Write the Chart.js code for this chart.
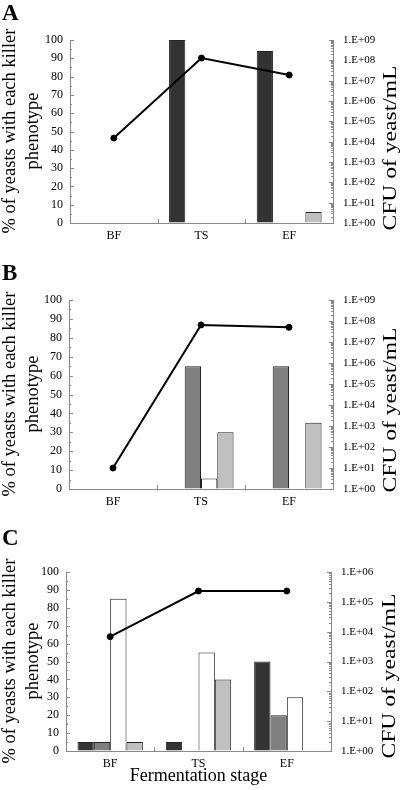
<!DOCTYPE html>
<html>
<head>
<meta charset="utf-8">
<script src="https://cdn.jsdelivr.net/npm/chart.js@4.4.0/dist/chart.umd.min.js"></script>
<style>
  body { margin: 0; background: #fff; width: 400px; height: 790px; position: relative; overflow: hidden; font-family: "Liberation Serif", serif; color: #000; }
  .panel { position: absolute; left: 0; width: 400px; }
  .letter { position: absolute; left: 2px; font-weight: bold; font-size: 23px; line-height: 23px; }
  canvas { display: block; }
  /* rotated axis titles: zero-size anchor at the text centre */
  .vtitle { position: absolute; width: 0; height: 0; transform-origin: 0 0; }
  .vtitle span { position: absolute; left: 0; top: 0; transform: translate(-50%, -50%); white-space: nowrap; text-align: center; }
  .ltitle { transform: rotate(-90deg); }
  .ltitle span { font-size: 18.5px; line-height: 23px; }
  .rtitle { transform: rotate(-90deg) scaleX(1.24); }
  .rtitle span { font-size: 19px; line-height: 19px; }
</style>
</head>
<body>
<div class="panel" style="top:0px;height:255px"><canvas id="chartA" width="400" height="255"></canvas></div>
<div class="panel" style="top:255px;height:265px"><canvas id="chartB" width="400" height="265"></canvas></div>
<div class="panel" style="top:520px;height:270px"><canvas id="chartC" width="400" height="270"></canvas></div>

<div class="letter" style="top:1px">A</div>
<div class="letter" style="top:261px">B</div>
<div class="letter" style="top:526px">C</div>

<div class="vtitle ltitle" style="left:21px;top:131px"><span>% of yeasts with each killer<br>phenotype</span></div>
<div class="vtitle ltitle" style="left:21px;top:394px"><span>% of yeasts with each killer<br>phenotype</span></div>
<div class="vtitle ltitle" style="left:21px;top:661px"><span>% of yeasts with each killer<br>phenotype</span></div>
<div class="vtitle rtitle" style="left:389px;top:148px"><span>CFU of yeast/mL</span></div>
<div class="vtitle rtitle" style="left:389px;top:410px"><span>CFU of yeast/mL</span></div>
<div class="vtitle rtitle" style="left:388px;top:676px"><span>CFU of yeast/mL</span></div>

<script>
// fermentation stages
const stages = ['BF', 'TS', 'EF'];

// % of yeasts per killer phenotype (4 bar series, by fill shade), null = no bar
const darkA   = [null, 100, 94];
const mediumA = [null, null, null];
const whiteA  = [null, null, null];
const lightA  = [null, null, 6];
const cfuA    = [1.5e4, 1.3e8, 1.9e7];

const darkB   = [null, null, null];
const mediumB = [null, 65, 65];
const whiteB  = [null, 5.5, null];
const lightB  = [null, 30, 35];
const cfuB    = [1.0e1, 6.5e7, 5.0e7];

const darkC   = [5, 5, 50];
const mediumC = [5, null, 20];
const whiteC  = [85, 55, 30];
const lightC  = [5, 40, null];
const cfuC    = [6.8e3, 2.3e5, 2.3e5];

const fillColors = ['#333333', '#808080', '#ffffff', '#c0c0c0'];
const axisGray = '#888888';
const serif = '"Liberation Serif", "Times New Roman", serif';

// ticks point into the plot, like the original figure
const inwardTicks = {
  id: 'inwardTicks',
  afterDraw(chart) {
    const ctx = chart.ctx;
    const xs = chart.scales.x, yl = chart.scales.y, yr = chart.scales.y1;
    ctx.save();
    ctx.strokeStyle = axisGray;
    ctx.lineWidth = 1;
    ctx.beginPath();
    for (let v = 0; v <= 100; v += 5) {
      const py = Math.round(yl.getPixelForValue(v)) + 0.5;
      const len = v % 10 === 0 ? 4 : 2;
      ctx.moveTo(yl.right, py); ctx.lineTo(yl.right + len, py);
    }
    const maxExp = Math.round(Math.log10(yr.max));
    for (let e = 0; e <= maxExp; e++) {
      for (let m = 1; m <= 9; m++) {
        if (e === maxExp && m > 1) break;
        const py = Math.round(yr.getPixelForValue(m * Math.pow(10, e))) + 0.5;
        const len = m === 1 ? 4 : 2;
        ctx.moveTo(yr.left, py); ctx.lineTo(yr.left - len, py);
      }
    }
    for (let i = 0; i < stages.length - 1; i++) {
      const px = Math.round((xs.getPixelForTick(i) + xs.getPixelForTick(i + 1)) / 2) + 0.5;
      ctx.moveTo(px, xs.top); ctx.lineTo(px, xs.top - 4);
    }
    ctx.stroke();
    ctx.restore();
  }
};

function makePanel(id, series, cfu, opts) {
  const datasets = [{
    type: 'line',
    data: cfu,
    yAxisID: 'y1',
    borderColor: '#000',
    borderWidth: 2,
    pointRadius: 3,
    pointBorderWidth: 1,
    pointBackgroundColor: '#000',
    pointBorderColor: '#000',
    order: 0
  }];
  series.forEach((vals, i) => {
    datasets.push({
      type: 'bar',
      data: vals,
      yAxisID: 'y',
      backgroundColor: fillColors[i],
      borderColor: '#222',
      borderWidth: 1,
      categoryPercentage: 0.74,
      barPercentage: 1.0,
      order: 1
    });
  });

  new Chart(document.getElementById(id), {
    data: { labels: stages, datasets: datasets },
    options: {
      responsive: false,
      animation: false,
      events: [],
      layout: { padding: { top: opts.padTop, left: 0, right: 0, bottom: 0 } },
      plugins: { legend: { display: false }, tooltip: { enabled: false } },
      scales: {
        x: {
          afterFit: s => { s.height = opts.xH; },
          grid: { display: true, drawOnChartArea: false, drawTicks: false },
          border: { color: axisGray, width: 1 },
          ticks: { color: '#000', padding: 6, font: { family: serif, size: 12 } },
          title: {
            display: !!opts.xTitle,
            text: opts.xTitle || '',
            color: '#000',
            font: { family: serif, size: 18, lineHeight: 1.2 },
            padding: { top: 0, bottom: 3 }
          }
        },
        y: {
          position: 'left',
          min: 0, max: 100,
          afterFit: s => { s.width = opts.leftW; },
          grid: { display: true, drawOnChartArea: false, drawTicks: false },
          border: { color: axisGray, width: 1 },
          ticks: { stepSize: 10, autoSkip: false, color: '#000', padding: 7, font: { family: serif, size: 12 } }
        },
        y1: {
          type: 'logarithmic',
          position: 'right',
          min: 1, max: opts.logMax,
          afterFit: s => { s.width = opts.rightW; },
          afterBuildTicks: s => {
            const ticks = [];
            for (let v = 1; v <= opts.logMax * 1.0001; v *= 10) ticks.push({ value: v });
            s.ticks = ticks;
          },
          grid: { display: true, drawOnChartArea: false, drawTicks: false },
          border: { color: axisGray, width: 1 },
          ticks: {
            autoSkip: false,
            color: '#000', padding: 10, font: { family: serif, size: 11 },
            callback: v => '1.E+' + String(Math.round(Math.log10(v))).padStart(2, '0')
          }
        }
      }
    },
    plugins: [inwardTicks]
  });
}

makePanel('chartA', [darkA, mediumA, whiteA, lightA], cfuA,
  { padTop: 40, xH: 32, leftW: 70, rightW: 67, logMax: 1e9 });
makePanel('chartB', [darkB, mediumB, whiteB, lightB], cfuB,
  { padTop: 45, xH: 31, leftW: 69, rightW: 67, logMax: 1e9 });
makePanel('chartC', [darkC, mediumC, whiteC, lightC], cfuC,
  { padTop: 52, xH: 39, leftW: 66, rightW: 69, logMax: 1e6, xTitle: 'Fermentation stage' });
</script>
</body>
</html>
